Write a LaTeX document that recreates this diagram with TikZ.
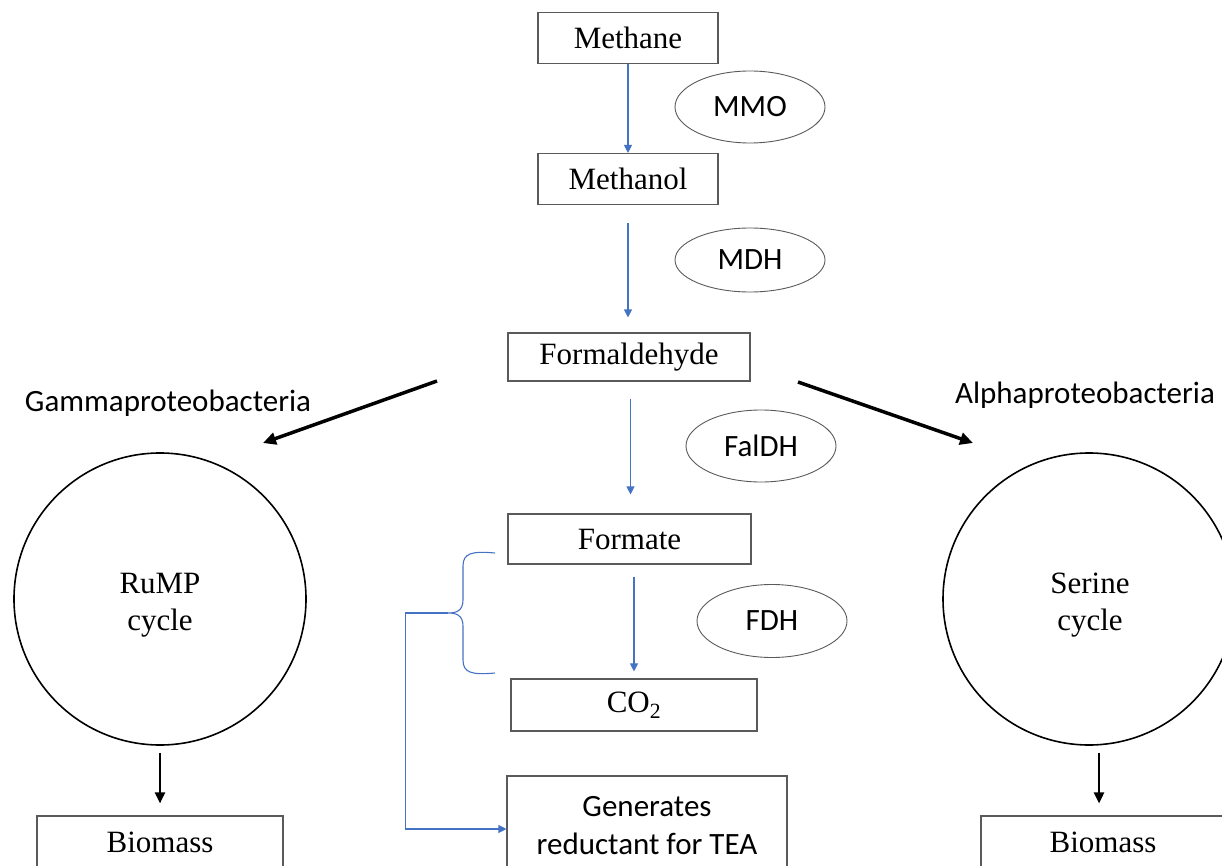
\documentclass[tikz,border=0pt]{standalone}
\usepackage{fontspec}
\setmainfont{Liberation Serif}
\newfontfamily\calib{Carlito}
\usetikzlibrary{arrows.meta,shapes.geometric,calc}
\definecolor{flowblue}{RGB}{68,114,196}
\definecolor{boxgray}{RGB}{90,90,90}
\tikzset{
  stage/.style={draw=boxgray, line width=1.1pt, rectangle, minimum height=51pt, inner sep=0pt, font=\fontsize{31}{36}\selectfont},
  enzyme/.style={draw=boxgray, line width=0.9pt, ellipse, minimum width=150pt, minimum height=70pt, inner sep=0pt, font=\calib\fontsize{31}{36}\selectfont},
  cyc/.style={draw=black, line width=1.6pt, circle, minimum size=292pt, inner sep=0pt},
  cyctext/.style={align=center, inner sep=0pt, font=\fontsize{31}{37}\selectfont},
  grp/.style={font=\calib\fontsize{31}{36}\selectfont, inner sep=0pt},
  bluearrow/.style={color=flowblue, line width=1.1pt, -{Triangle[width=8pt,length=8pt]}},
  blackarrow/.style={draw=black, line width=3.5pt, -{Triangle[width=12pt,length=13pt]}},
  downarrow/.style={draw=black, line width=2.4pt, -{Triangle[width=10pt,length=11pt]}},
}
\begin{document}
\begin{tikzpicture}[x=1pt,y=-1pt]
\useasboundingbox (0,0) rectangle (1222,866);
% main chain
\node[stage, minimum width=180pt] (methane) at (628,38) {Methane};
\node[stage, minimum width=180pt] (methanol) at (628,179) {Methanol};
\node[stage, minimum width=242pt, minimum height=48pt] (formald) at (629,357) {Formaldehyde};
\node[stage, minimum width=243pt, minimum height=50pt] (formate) at (629.5,539) {Formate};
\node[stage, minimum width=246pt, minimum height=52pt] (co2) at (634,705) {CO\textsubscript{2}};
\node[stage, minimum width=280pt, minimum height=100pt, align=center, font=\calib\fontsize{31}{38}\selectfont] (gen) at (647,826) {Generates\\reductant for TEA};
% enzymes
\node[enzyme, minimum height=72pt] (mmo) at (750,107) {MMO};
\node[enzyme, minimum height=64pt] (mdh) at (750,260) {MDH};
\node[enzyme, minimum height=72pt] (faldh) at (761,446) {FalDH};
\node[enzyme, minimum height=73pt] (fdh) at (772,621) {FDH};
% cycles
\node[cyc] (rump) at (160,599) {};
\node[cyctext] (rumptext) at (160,605) {RuMP\\cycle};
\node[cyc] (serine) at (1089,599) {};
\node[cyctext] (serinetext) at (1090,605) {Serine\\cycle};
\node[stage, minimum width=246pt, minimum height=52pt] (bioL) at (160,842) {Biomass};
\node[stage, minimum width=244pt, minimum height=52pt] (bioR) at (1103,842) {Biomass};
% group labels
\node[grp] (gamma) at (168,403) {Gammaproteobacteria};
\node[grp] (alpha) at (1085,395) {Alphaproteobacteria};
% blue chain arrows
\draw[bluearrow] (methane.south) -- (methanol.north);
\draw[bluearrow, shorten <=18pt, shorten >=15pt] (methanol.south) -- (methanol.south |- formald.north);
\draw[bluearrow, shorten <=17pt, shorten >=19pt] ([xshift=1.5pt]formald.south) -- ([xshift=1pt]formate.north);
\draw[bluearrow, shorten <=12pt, shorten >=7pt] (co2.north |- formate.south) -- (co2.north);
% brace and reductant connector
\coordinate (btop) at (495,553);
\coordinate (bbot) at (495,673);
\coordinate (btip) at (448,613);
\draw[flowblue, line width=1.1pt] (btop) .. controls (472,551) and (463,553) .. (463,566) -- (463,600) .. controls (463,611) and (456,613) .. (btip)
  .. controls (456,613) and (463,615) .. (463,626) -- (463,660) .. controls (463,673) and (472,675) .. (bbot);
\draw[bluearrow] (btip) -- (405.5,613) |- ([yshift=-3pt]gen.west);
% branch arrows
\coordinate (gstart) at (437,381);
\coordinate (gend) at (263,443);
\coordinate (astart) at (798,382);
\coordinate (aend) at (973,443);
\draw[blackarrow] (gstart) -- (gend);
\draw[blackarrow] (astart) -- (aend);
% to biomass
\draw[downarrow, shorten <=7pt, shorten >=12pt] (rump.south) -- (bioL.north);
\draw[downarrow, shorten <=7pt, shorten >=12pt] ([xshift=10pt]serine.south) -- ([xshift=10pt]serine.south |- bioR.north);
\end{tikzpicture}
\end{document}
